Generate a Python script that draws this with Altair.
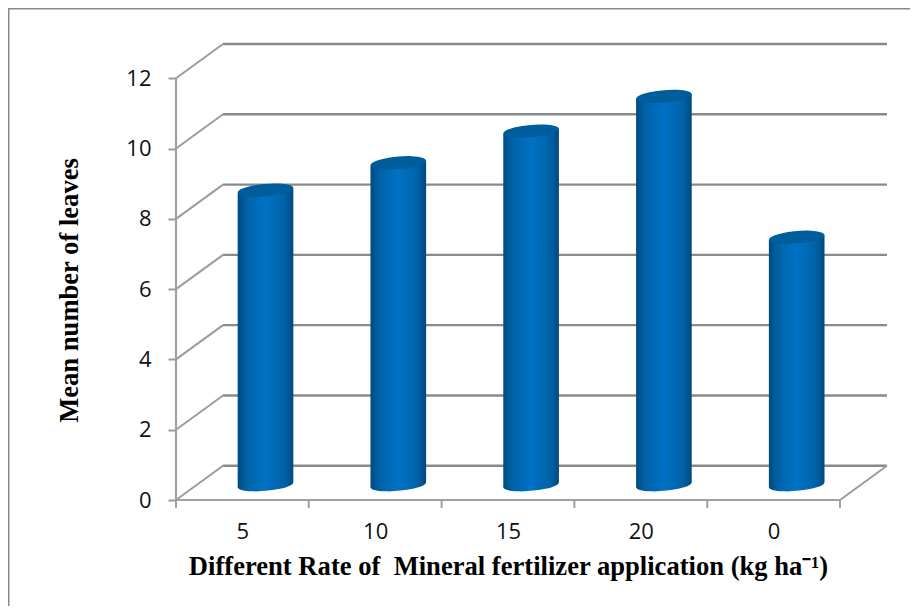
import altair as alt
import pandas as pd

categories = ["5", "10", "15", "20", "0"]
values = [8.38, 9.16, 10.06, 11.05, 7.04]
y_ticks = [0, 2, 4, 6, 8, 10, 12]
x_title = "Different Rate of\u00a0\u00a0Mineral fertilizer application (kg ha\u207b\u00b9)"
y_title = "Mean number of leaves"

# 3-D projection of the chart box, in data units
DEPTH_X = 0.354
DEPTH_Y = 0.975
BAR_SHIFT_X = 0.174
BAR_SHIFT_Y = 0.435
BAR_W = 0.419
TILT = 0.07
N = len(categories)

x_scale = alt.Scale(domain=[0, N + DEPTH_X], nice=False, zero=False)
y_scale = alt.Scale(domain=[0, 12 + DEPTH_Y], nice=False, zero=False)

segs = []
for v in y_ticks:
    segs.append(dict(x=0, y=v, x2=DEPTH_X, y2=v + DEPTH_Y, c="side"))
    segs.append(dict(x=DEPTH_X, y=v + DEPTH_Y, x2=N + DEPTH_X, y2=v + DEPTH_Y, c="back"))
segs.append(dict(x=N, y=0, x2=N + DEPTH_X, y2=DEPTH_Y, c="side"))
segs_df = pd.DataFrame(segs)

bars = pd.DataFrame({
    "pos": [i + 0.5 + BAR_SHIFT_X for i in range(N)],
    "base": [BAR_SHIFT_Y] * N,
    "top": [BAR_SHIFT_Y + v for v in values],
})
# cylinder side: a slightly tilted band following the ends of the caps
side_rows = []
for i, v in enumerate(values):
    c = i + 0.5 + BAR_SHIFT_X
    for sgn in (-1, 1):
        side_rows.append(dict(cat=categories[i], xp=c + sgn * BAR_W / 2,
                              lo=BAR_SHIFT_Y + sgn * TILT, hi=BAR_SHIFT_Y + v + sgn * TILT))
sides = pd.DataFrame(side_rows)

X = alt.X("x:Q", scale=x_scale,
          axis=alt.Axis(values=[i + 0.5 for i in range(N)],
                        labelExpr="['5','10','15','20','0'][datum.value-0.5]",
                        labelFont="Open Sans", labelFontSize=22, labelColor="#111111",
                        labelPadding=21, ticks=False, domain=False, grid=False,
                        title=x_title, titleFont="Liberation Serif", titleFontSize=26.6,
                        titleFontWeight="bold", titleColor="#000000",
                        titleX=332, titleY=74, titleAlign="center", titleBaseline="alphabetic"))
Y = alt.Y("y:Q", scale=y_scale,
          axis=alt.Axis(values=y_ticks, labelFont="Open Sans", labelFontSize=22, labelColor="#111111",
                        labelPadding=17, tickSize=8, tickColor="#9a9a9a", tickWidth=2,
                        domain=False, grid=False, format="d",
                        title=y_title, titleFont="Liberation Serif", titleFontSize=26.6,
                        titleFontWeight="bold", titleColor="#000000",
                        titleX=-99, titleY=246, titleAngle=270, titleAlign="center",
                        titleBaseline="alphabetic"))

XP = alt.X("x:Q", scale=x_scale)
YP = alt.Y("y:Q", scale=y_scale)

back = alt.Chart(segs_df[segs_df.c == "back"]).mark_rule(color="#8a8a8a", strokeWidth=2.4).encode(
    x=X, y=Y, x2="x2:Q", y2="y2:Q")
side = alt.Chart(segs_df[segs_df.c == "side"]).mark_rule(color="#9c9c9c", strokeWidth=2).encode(
    x=XP, y=YP, x2="x2:Q", y2="y2:Q")

front_y = alt.Chart(pd.DataFrame({"x": [0], "y": [0], "y2": [12]})).mark_rule(
    color="#a0a0a0", strokeWidth=2.2).encode(x=XP, y=YP, y2="y2:Q")
front_x = alt.Chart(pd.DataFrame({"x": [0], "x2": [N], "y": [0]})).mark_rule(
    color="#a0a0a0", strokeWidth=2.2).encode(x=XP, x2="x2:Q", y=YP)
x_ticks = alt.Chart(pd.DataFrame({"x": list(range(N + 1))})).mark_rule(
    color="#a0a0a0", strokeWidth=2).encode(x=XP, y=alt.value(456), y2=alt.value(464))

grad = alt.Gradient(gradient="linear", x1=0, x2=1, y1=0, y2=0, stops=[
    alt.GradientStop(offset=0, color="#004a80"),
    alt.GradientStop(offset=0.16, color="#0062a6"),
    alt.GradientStop(offset=0.5, color="#0072c6"),
    alt.GradientStop(offset=0.84, color="#0062a6"),
    alt.GradientStop(offset=1, color="#004a80"),
])
ELLIPSE = "M -0.996 0.087 A 1 0.22 -5 1 1 0.996 -0.087 A 1 0.22 -5 1 1 -0.996 0.087 Z"
BAR_PX = 3090

body = alt.Chart(sides).mark_area(fill=grad, opacity=1).encode(
    x=alt.X("xp:Q", scale=x_scale),
    y=alt.Y("lo:Q", scale=y_scale), y2="hi:Q",
    detail="cat:N")
bottom = alt.Chart(bars).mark_point(shape=ELLIPSE, filled=True, fill=grad, opacity=1,
                                    size=BAR_PX, strokeWidth=0).encode(
    x=alt.X("pos:Q", scale=x_scale), y=alt.Y("base:Q", scale=y_scale))
cap = alt.Chart(bars).mark_point(shape=ELLIPSE, filled=True, fill="#005d9c", opacity=1,
                                 size=BAR_PX, strokeWidth=0).encode(
    x=alt.X("pos:Q", scale=x_scale), y=alt.Y("top:Q", scale=y_scale))

frame_top = alt.Chart(pd.DataFrame({"a": [0]})).mark_rule(color="#8a8a8a", strokeWidth=2).encode(
    x=alt.value(-168), x2=alt.value(734), y=alt.value(-35.5))
frame_left = alt.Chart(pd.DataFrame({"a": [0]})).mark_rule(color="#8a8a8a", strokeWidth=2).encode(
    x=alt.value(-167.5), y=alt.value(-36), y2=alt.value(570))

chart = alt.layer(back, side, front_y, front_x, x_ticks, bottom, body, cap, frame_top, frame_left).properties(
    width=711, height=456,
    padding={"left": 168, "top": 36, "right": 23, "bottom": 106},
    autosize=alt.AutoSizeParams(type="none"),
    background="white",
).configure_view(stroke=None)

chart.save("out.html", embed_options={"renderer": "svg", "actions": False})
